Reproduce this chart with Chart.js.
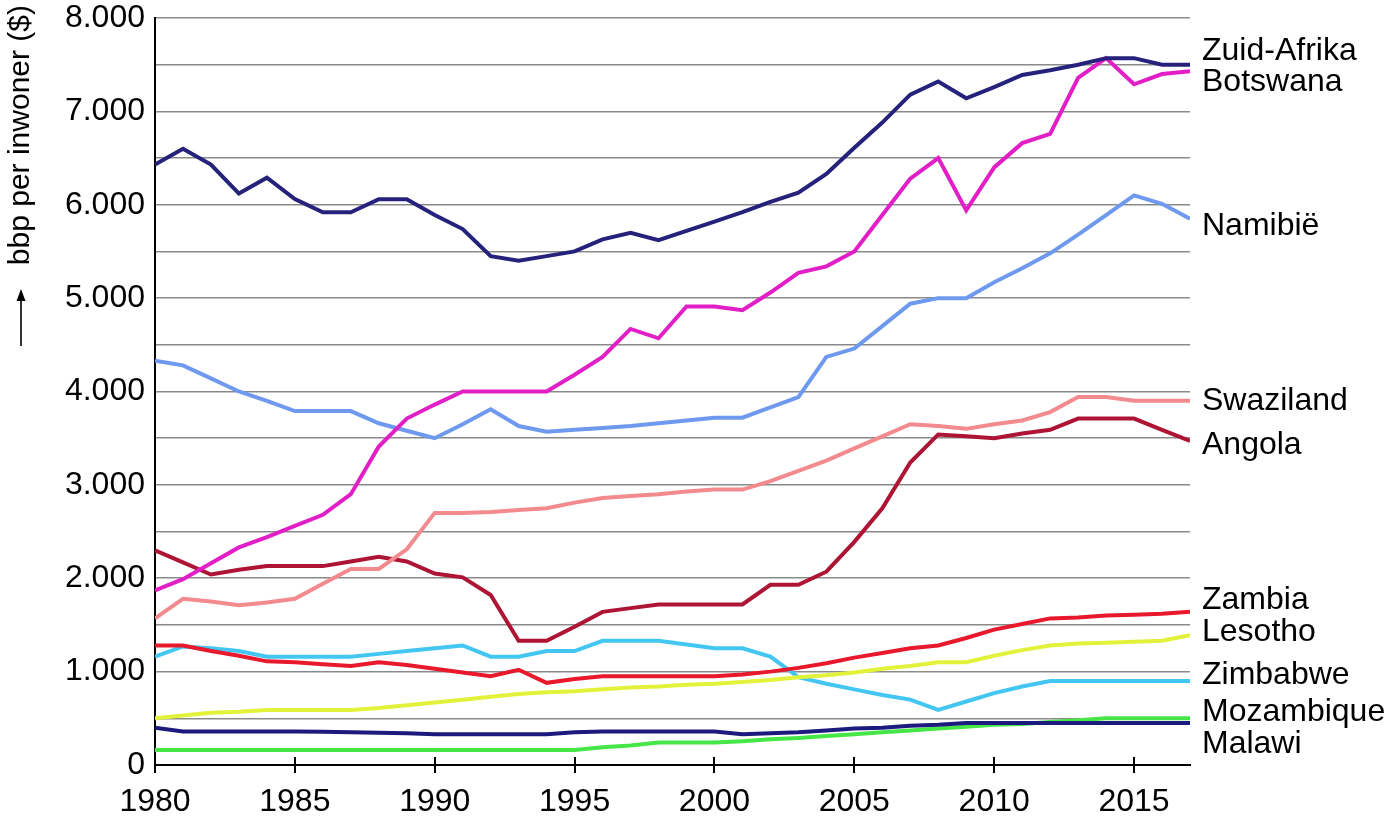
<!DOCTYPE html>
<html>
<head>
<meta charset="utf-8">
<script src="https://cdn.jsdelivr.net/npm/chart.js@4"></script>
<style>
html,body{margin:0;padding:0;background:#fff;}
#wrap{width:1390px;height:819px;position:relative;}
</style>
</head>
<body>
<div id="wrap"><canvas id="c"></canvas></div>
<script>
const years = [1980,1981,1982,1983,1984,1985,1986,1987,1988,1989,
               1990,1991,1992,1993,1994,1995,1996,1997,1998,1999,
               2000,2001,2002,2003,2004,2005,2006,2007,2008,2009,
               2010,2011,2012,2013,2014,2015,2016,2017];
const xTicks = [1980,1985,1990,1995,2000,2005,2010,2015];
const yTicks = [0,1000,2000,3000,4000,5000,6000,7000,8000];

const zuidAfrika = [6430,6600,6430,6120,6290,6060,5920,5920,6060,6060,
                    5890,5740,5450,5400,5450,5500,5630,5700,5620,5720,
                    5820,5920,6030,6130,6330,6610,6880,7180,7320,7140,
                    7260,7390,7440,7500,7570,7570,7500,7500];
const botswana = [1870,1990,2160,2330,2440,2560,2680,2900,3410,3710,
                  3860,4000,4000,4000,4000,4180,4370,4670,4570,4910,
                  4910,4870,5060,5270,5340,5500,5890,6280,6500,5940,
                  6400,6660,6760,7360,7570,7290,7400,7430];
const namibie = [4330,4280,4140,4000,3900,3790,3790,3790,3660,3580,
                 3500,3650,3810,3630,3570,3590,3610,3630,3660,3690,
                 3720,3720,3830,3940,4370,4460,4700,4940,5000,5000,
                 5170,5320,5480,5680,5890,6100,6010,5850];
const swaziland = [1570,1780,1750,1710,1740,1780,1940,2100,2100,2310,
                   2700,2700,2710,2730,2750,2810,2860,2880,2900,2930,
                   2950,2950,3040,3150,3260,3390,3520,3650,3630,3600,
                   3650,3690,3780,3940,3940,3900,3900,3900];
const angola = [2300,2170,2040,2090,2130,2130,2130,2180,2230,2180,
                2050,2010,1820,1330,1330,1480,1640,1680,1720,1720,
                1720,1720,1930,1930,2070,2390,2750,3240,3540,3520,
                3500,3550,3590,3710,3710,3710,3590,3470];
const zambia = [1280,1280,1220,1170,1110,1100,1080,1060,1100,1070,
                1030,990,950,1020,880,920,950,950,950,950,
                950,970,1000,1040,1090,1150,1200,1250,1280,1360,
                1450,1510,1570,1580,1600,1610,1620,1640];
const lesotho = [500,530,560,570,590,590,590,590,610,640,
                 670,700,730,760,780,790,810,830,840,860,
                 870,890,910,940,960,990,1030,1060,1100,1100,
                 1170,1230,1280,1300,1310,1320,1330,1390];
const zimbabwe = [1160,1270,1250,1220,1160,1160,1160,1160,1190,1220,
                  1250,1280,1160,1160,1220,1220,1330,1330,1330,1290,
                  1250,1250,1160,940,870,810,750,700,590,680,
                  770,840,900,900,900,900,900,900];
const mozambique = [400,360,360,360,360,360,355,350,345,340,
                    330,330,330,330,330,350,360,360,360,360,
                    360,330,340,350,370,390,400,420,430,450,
                    450,450,450,450,450,450,450,450];
const malawi = [160,160,160,160,160,160,160,160,160,160,
                160,160,160,160,160,160,190,210,240,240,
                240,255,275,290,310,330,350,370,390,410,
                430,440,460,480,500,500,500,500];

const seriesNames = ["Zuid-Afrika","Botswana","Namibië","Swaziland","Angola","Zambia","Lesotho","Zimbabwe","Mozambique","Malawi"];
const seriesData = [zuidAfrika,botswana,namibie,swaziland,angola,zambia,lesotho,zimbabwe,mozambique,malawi];
const seriesColors = ["#26227c","#e21fc6","#6f99ee","#f28a8e","#ae1433","#e8192c","#e2f23a","#43c6f2","#1c1a7c","#46e646"];
const labelValues = [7640,7310,5770,3900,3420,1770,1420,960,570,225];
const yTitle = "bbp per inwoner ($)";

const FONT = '"Liberation Sans", Arial, sans-serif';

function fmt(v){ return String(v).replace(/\B(?=(\d{3})+(?!\d))/g, '.'); }

const datasets = seriesNames.map((n,i)=>({
  label:n,
  data: years.map((y,j)=>({x:y, y:seriesData[i][j]})),
  borderColor: seriesColors[i],
  backgroundColor: seriesColors[i],
  borderWidth: 4,
  pointRadius: 0,
  tension: 0,
  fill: false
}));

const decor = {
  id:'decor',
  afterDraw(chart){
    const ctx = chart.ctx, ca = chart.chartArea;
    const xs = chart.scales.x, ys = chart.scales.y;
    ctx.save();
    // tick marks crossing the x axis
    ctx.strokeStyle = '#000'; ctx.lineWidth = 2;
    xTicks.forEach(t=>{
      const px = Math.round(xs.getPixelForValue(t));
      ctx.beginPath(); ctx.moveTo(px, ca.bottom-8); ctx.lineTo(px, ca.bottom); ctx.stroke();
    });
    // right-side labels
    ctx.fillStyle = '#000';
    ctx.font = '32px ' + FONT;
    ctx.textAlign = 'left'; ctx.textBaseline = 'middle';
    seriesNames.forEach((n,i)=>{
      ctx.fillText(n, ca.right + 12, ys.getPixelForValue(labelValues[i]));
    });
    // y axis title (rotated)
    ctx.save();
    ctx.translate(21, 5);
    ctx.rotate(-Math.PI/2);
    ctx.font = '30px ' + FONT;
    ctx.textAlign = 'right'; ctx.textBaseline = 'middle';
    ctx.fillText(yTitle, 0, 0);
    ctx.restore();
    // arrow
    ctx.strokeStyle = '#000'; ctx.lineWidth = 1.6;
    ctx.beginPath(); ctx.moveTo(21, 346); ctx.lineTo(21, 296); ctx.stroke();
    ctx.beginPath(); ctx.moveTo(21, 289); ctx.lineTo(16.5, 301); ctx.lineTo(25.5, 301); ctx.closePath(); ctx.fill();
    ctx.restore();
  }
};

new Chart(document.getElementById('c'), {
  type:'line',
  data:{datasets},
  options:{
    responsive:true,
    maintainAspectRatio:false,
    animation:false,
    layout:{padding:{left:0,right:200,top:18,bottom:0}},
    plugins:{legend:{display:false}, tooltip:{enabled:false}},
    scales:{
      x:{
        type:'linear', min:1980, max:2017,
        afterBuildTicks: a => { a.ticks = xTicks.map(v=>({value:v})); },
        afterFit: a => { a.height = 54; a.paddingLeft = 0; a.paddingRight = 0; },
        grid:{display:true, drawOnChartArea:false, drawTicks:true, tickLength:8, color:'#000', lineWidth:2},
        border:{display:true, color:'#000', width:2},
        ticks:{color:'#000', font:{family:FONT, size:32, lineHeight:1.0}, padding:13, maxRotation:0, autoSkip:false,
               callback: v => String(v)}
      },
      y:{
        min:0, max:8000,
        ticks:{stepSize:500, color:'#000', font:{family:FONT, size:32, lineHeight:1.0}, padding:10, autoSkip:false,
               callback: v => (yTicks.includes(v) ? fmt(v) : '')},
        afterFit: a => { a.width = 155; a.paddingTop = 0; a.paddingBottom = 0; },
        grid:{color:'#8a8a8a', lineWidth:1.6, drawTicks:false},
        border:{display:true, color:'#000', width:2}
      }
    }
  },
  plugins:[decor]
});
</script>
</body>
</html>
